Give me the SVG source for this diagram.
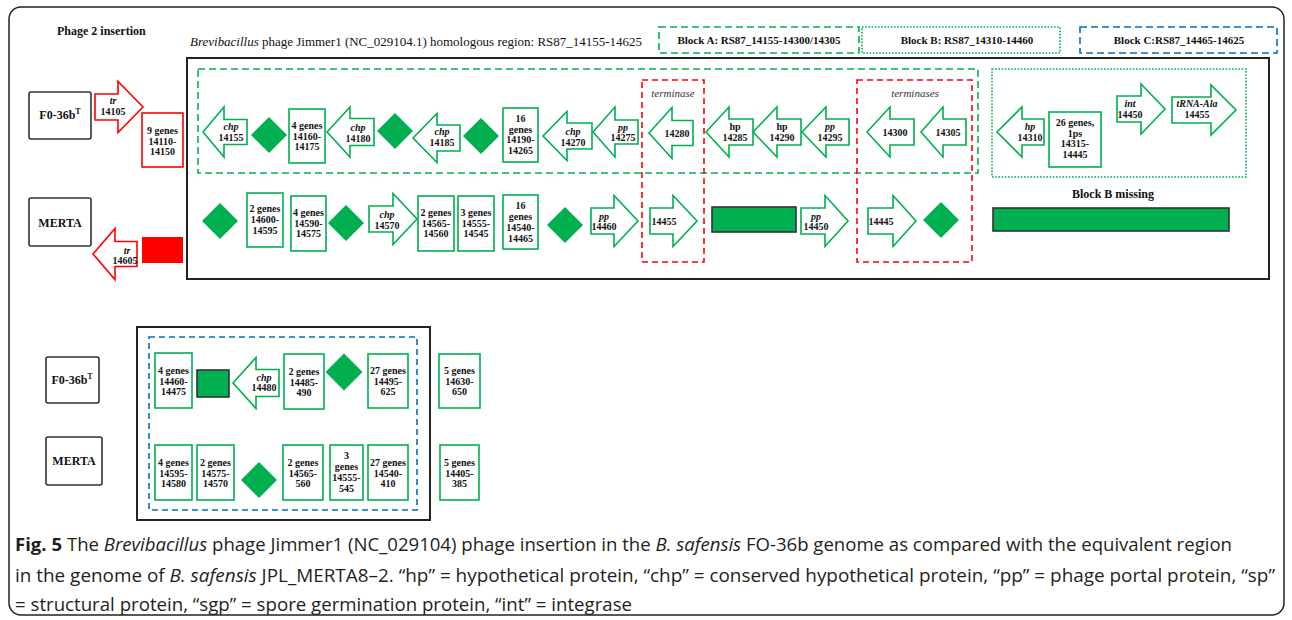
<svg xmlns="http://www.w3.org/2000/svg" width="1292" height="620" viewBox="0 0 1292 620">
<style>
.g{fill:#fff;stroke:#00b050;stroke-width:1.6}
.r{fill:#fff;stroke:#ff0000;stroke-width:1.6}
.lab{fill:#fff;stroke:#333;stroke-width:1.6}
.dia{fill:#00b050}
.gf{fill:#00b050;stroke:#333;stroke-width:1.6}
.t{font-family:"Liberation Serif",serif;font-weight:bold;font-size:10px;text-anchor:middle;fill:#111}
.i{font-style:italic}
.h{font-family:"Liberation Serif",serif;font-weight:bold;font-size:12px;fill:#111}
.bl{font-family:"Liberation Serif",serif;font-weight:bold;font-size:11px;fill:#111;text-anchor:middle}
.tm{font-family:"Liberation Serif",serif;font-style:italic;font-size:11px;fill:#333;text-anchor:middle}
.cap{font-family:"Open Sans","Noto Sans",sans-serif;font-size:18px;fill:#231f20}
</style>
<rect x="9" y="7" width="1275" height="608" rx="12" fill="none" stroke="#222" stroke-width="1.5"/>
<g id="header">
<text class="h" x="57" y="35">Phage 2 insertion</text>
<text x="190" y="46" font-family="Liberation Serif,serif" font-size="13" fill="#111" textLength="452" lengthAdjust="spacingAndGlyphs"><tspan font-style="italic">Brevibacillus</tspan> phage Jimmer1 (NC_029104.1) homologous region: RS87_14155-14625</text>
</g>
<g id="legendA"><rect x="659" y="27" width="200" height="26" fill="none" stroke="#00b050" stroke-width="1.6" stroke-dasharray="7,4"/><text class="bl" x="759" y="44">Block A: RS87_14155-14300/14305</text></g>
<g id="legendB"><rect x="862" y="27" width="198" height="26" fill="none" stroke="#00b050" stroke-width="1.6" stroke-dasharray="1.6,1.6"/><text class="bl" x="967" y="44">Block B: RS87_14310-14460</text></g>
<g id="legendC"><rect x="1080" y="27" width="197" height="26" fill="none" stroke="#0070c0" stroke-width="1.6" stroke-dasharray="7,4"/><text class="bl" x="1179" y="44">Block C:RS87_14465-14625</text></g>

<g id="mainBox"><rect x="187" y="58" width="1082" height="221" fill="none" stroke="#222" stroke-width="2"/></g>
<g id="blockA"><rect x="198" y="69" width="780" height="104" fill="none" stroke="#00b050" stroke-width="1.6" stroke-dasharray="7,4"/></g>
<g id="blockB"><rect x="992" y="69" width="254" height="108" fill="none" stroke="#00b050" stroke-width="1.6" stroke-dasharray="1.6,1.6"/></g>
<g id="terminase"><rect x="642" y="80" width="62" height="182" fill="none" stroke="#ff0000" stroke-width="1.6" stroke-dasharray="6,4"/><text class="tm" x="673" y="97">terminase</text></g>
<g id="terminases"><rect x="857" y="80" width="115" height="182" fill="none" stroke="#ff0000" stroke-width="1.6" stroke-dasharray="6,4"/><text class="tm" x="915" y="97">terminases</text></g>

<g id="lbl-F0"><rect class="lab" x="29" y="92" width="62" height="47" rx="2"/><text class="h" x="60" y="119" text-anchor="middle">F0-36b<tspan font-size="8" dy="-5">T</tspan></text></g>
<g id="lbl-MERTA"><rect class="lab" x="29" y="198" width="62" height="48" rx="2"/><text class="h" x="60" y="227" text-anchor="middle">MERTA</text></g>

<g id="tr14105"><path class="r" d="M95,94 L118,94 L118,81.5 L143,107 L118,132.5 L118,120 L95,120 Z"/><text class="t" x="113" y="104"><tspan class="i">tr</tspan><tspan x="113" dy="10.5">14105</tspan></text></g>
<g id="g9genes"><rect class="r" x="142" y="113" width="41" height="54"/><text class="t" x="162.5" y="134">9 genes<tspan x="162.5" dy="10.5">14110-</tspan><tspan x="162.5" dy="10.5">14150</tspan></text></g>
<g id="tr14605"><path class="r" d="M93,254 L115,228.5 L115,241.5 L137,241.5 L137,266.5 L115,266.5 L115,279.5 Z"/><text class="t" x="127" y="254"><tspan class="i">tr</tspan><tspan x="125" dy="10">14605</tspan></text></g>
<g id="redrect"><rect x="142" y="237" width="41" height="26" fill="#ff0000"/></g>

<g id="a14155"><path class="g" d="M203,132 L224,107 L224,119.5 L247,119.5 L247,144.5 L224,144.5 L224,157 Z"/><text class="t" x="231" y="130"><tspan class="i">chp</tspan><tspan x="231" dy="10.5">14155</tspan></text></g>
<g id="d1"><polygon class="dia" points="269,117 287,135 269,153 251,135"/></g>
<g id="b14160"><rect class="g" x="289" y="109" width="36" height="54"/><text class="t" x="307" y="129">4 genes<tspan x="307" dy="10.5">14160-</tspan><tspan x="307" dy="10.5">14175</tspan></text></g>
<g id="a14180"><path class="g" d="M327,132 L350,107 L350,118.5 L374,118.5 L374,145.5 L350,145.5 L350,157 Z"/><text class="t" x="358" y="131"><tspan class="i">chp</tspan><tspan x="358" dy="10.5">14180</tspan></text></g>
<g id="d2"><polygon class="dia" points="395,113 413,131 395,149 377,131"/></g>
<g id="a14185"><path class="g" d="M413,138 L437,113.5 L437,125 L460,125 L460,151 L437,151 L437,162.5 Z"/><text class="t" x="442" y="135"><tspan class="i">chp</tspan><tspan x="442" dy="10.5">14185</tspan></text></g>
<g id="d3"><polygon class="dia" points="481,118 499,136 481,154 463,136"/></g>
<g id="b14190"><rect class="g" x="503" y="108" width="35" height="54"/><text class="t" x="520.5" y="122">16<tspan x="520.5" dy="10.5">genes</tspan><tspan x="520.5" dy="10.5">14190-</tspan><tspan x="520.5" dy="10.5">14265</tspan></text></g>
<g id="a14270"><path class="g" d="M543,136 L567,111.5 L567,123 L592,123 L592,149 L567,149 L567,160.5 Z"/><text class="t" x="573" y="135"><tspan class="i">chp</tspan><tspan x="573" dy="10.5">14270</tspan></text></g>
<g id="a14275"><path class="g" d="M593,132 L615,107 L615,120 L638,120 L638,144 L615,144 L615,157 Z"/><text class="t" x="623" y="131"><tspan class="i">pp</tspan><tspan x="623" dy="10">14275</tspan></text></g>
<g id="a14280"><path class="g" d="M649,133 L672,107.5 L672,120.5 L693,120.5 L693,145.5 L672,145.5 L672,158.5 Z"/><text class="t" x="677" y="136.5">14280</text></g>
<g id="a14285"><path class="g" d="M706,132 L729,107 L729,119 L753,119 L753,145 L729,145 L729,157 Z"/><text class="t" x="735" y="130">hp<tspan x="735" dy="10.5">14285</tspan></text></g>
<g id="a14290"><path class="g" d="M753,132 L777,107 L777,119 L801,119 L801,145 L777,145 L777,157 Z"/><text class="t" x="782" y="130">hp<tspan x="782" dy="10.5">14290</tspan></text></g>
<g id="a14295"><path class="g" d="M802,132 L826,107 L826,119 L849,119 L849,145 L826,145 L826,157 Z"/><text class="t" x="830" y="130"><tspan class="i">pp</tspan><tspan x="830" dy="10.5">14295</tspan></text></g>
<g id="a14300"><path class="g" d="M867,132 L890,107 L890,119 L914,119 L914,145 L890,145 L890,157 Z"/><text class="t" x="895" y="135.5">14300</text></g>
<g id="a14305"><path class="g" d="M921,132 L943,107 L943,119 L966,119 L966,145 L943,145 L943,157 Z"/><text class="t" x="948" y="135.5">14305</text></g>

<g id="a14310"><path class="g" d="M997,132 L1022,107 L1022,119 L1044,119 L1044,145 L1022,145 L1022,157 Z"/><text class="t" x="1030" y="130"><tspan class="i">hp</tspan><tspan x="1030" dy="10.5">14310</tspan></text></g>
<g id="b14315"><rect class="g" x="1049" y="112" width="52" height="55"/><text class="t" x="1075" y="126">26 genes,<tspan x="1075" dy="10.5">1ps</tspan><tspan x="1075" dy="10.5">14315-</tspan><tspan x="1075" dy="10.5">14445</tspan></text></g>
<g id="a14450"><path class="g" d="M1117,96 L1141,96 L1141,84 L1165,109 L1141,134 L1141,122 L1117,122 Z"/><text class="t" x="1130" y="107"><tspan class="i">int</tspan><tspan x="1130" dy="10.5">14450</tspan></text></g>
<g id="a14455"><path class="g" d="M1172,97 L1211,97 L1211,85 L1236,110 L1211,135 L1211,123 L1172,123 Z"/><text class="t" x="1197" y="107"><tspan class="i">tRNA-Ala</tspan><tspan x="1197" dy="10.5">14455</tspan></text></g>

<g id="m-d1"><polygon class="dia" points="220,203 238,221 220,239 202,221"/></g>
<g id="m14600"><rect class="g" x="247" y="193" width="36" height="54"/><text class="t" x="265" y="212">2 genes<tspan x="265" dy="11">14600-</tspan><tspan x="265" dy="11">14595</tspan></text></g>
<g id="m14590"><rect class="g" x="291" y="196" width="35" height="55"/><text class="t" x="308.5" y="216">4 genes<tspan x="308.5" dy="10.5">14590-</tspan><tspan x="308.5" dy="10.5">14575</tspan></text></g>
<g id="m-d2"><polygon class="dia" points="346,205 364,223 346,241 328,223"/></g>
<g id="m14570"><path class="g" d="M369,206 L393,206 L393,193.5 L417,219 L393,244.5 L393,232 L369,232 Z"/><text class="t" x="387" y="218"><tspan class="i">chp</tspan><tspan x="387" dy="10.5">14570</tspan></text></g>
<g id="m14565"><rect class="g" x="418" y="196" width="36" height="55"/><text class="t" x="436" y="216">2 genes<tspan x="436" dy="10.5">14565-</tspan><tspan x="436" dy="10.5">14560</tspan></text></g>
<g id="m14555"><rect class="g" x="458" y="196" width="36" height="55"/><text class="t" x="476" y="216">3 genes<tspan x="476" dy="10.5">14555-</tspan><tspan x="476" dy="10.5">14545</tspan></text></g>
<g id="m14540"><rect class="g" x="503" y="195" width="35" height="54"/><text class="t" x="520.5" y="209">16<tspan x="520.5" dy="11">genes</tspan><tspan x="520.5" dy="11">14540-</tspan><tspan x="520.5" dy="11">14465</tspan></text></g>
<g id="m-d3"><polygon class="dia" points="565,207 583,225 565,243 547,225"/></g>
<g id="m14460"><path class="g" d="M591,208 L614,208 L614,195.5 L638,221 L614,246.5 L614,234 L591,234 Z"/><text class="t" x="604" y="220"><tspan class="i">pp</tspan><tspan x="604" dy="10">14460</tspan></text></g>
<g id="m14455"><path class="g" d="M650,208 L673,208 L673,195.5 L697,221 L673,246.5 L673,234 L650,234 Z"/><text class="t" x="664" y="225">14455</text></g>
<g id="m-rect"><rect class="gf" x="712" y="207" width="84" height="25"/></g>
<g id="m14450"><path class="g" d="M801,208 L825,208 L825,195.5 L848,221 L825,246.5 L825,234 L801,234 Z"/><text class="t" x="816" y="220"><tspan class="i">pp</tspan><tspan x="816" dy="10">14450</tspan></text></g>
<g id="m14445"><path class="g" d="M868,208 L893,208 L893,195.5 L916,221 L893,246.5 L893,234 L868,234 Z"/><text class="t" x="881" y="225">14445</text></g>
<g id="m-d4"><polygon class="dia" points="941,202 959,220 941,238 923,220"/></g>
<g id="blockBmissing"><text class="h" x="1113" y="198" text-anchor="middle" fill="#222">Block B missing</text><rect class="gf" x="993" y="208" width="236" height="23"/></g>

<g id="bottomBox"><rect x="137" y="327" width="293" height="193" fill="none" stroke="#222" stroke-width="2"/></g>
<g id="blockC"><rect x="149" y="337" width="268" height="173" fill="none" stroke="#0070c0" stroke-width="1.6" stroke-dasharray="6,4"/></g>
<g id="lbl-F0-2"><rect class="lab" x="46" y="357" width="53" height="46" rx="2"/><text class="h" x="72" y="384" text-anchor="middle" font-size="11">F0-36b<tspan font-size="7.5" dy="-5">T</tspan></text></g>
<g id="lbl-MERTA-2"><rect class="lab" x="46" y="437" width="56" height="48" rx="2"/><text class="h" x="74" y="465" text-anchor="middle" font-size="11">MERTA</text></g>

<g id="c14460"><rect class="g" x="155" y="353" width="37" height="55"/><text class="t" x="173.5" y="374">4 genes<tspan x="173.5" dy="10.5">14460-</tspan><tspan x="173.5" dy="10.5">14475</tspan></text></g>
<g id="c-rect"><rect class="gf" x="197" y="370" width="32" height="27"/></g>
<g id="c14480"><path class="g" d="M233,383 L256,357.5 L256,369.5 L279,369.5 L279,396.5 L256,396.5 L256,408.5 Z"/><text class="t" x="264" y="381"><tspan class="i">chp</tspan><tspan x="264" dy="10">14480</tspan></text></g>
<g id="c14485"><rect class="g" x="284" y="354" width="40" height="55"/><text class="t" x="304" y="375">2 genes<tspan x="304" dy="10.5">14485-</tspan><tspan x="304" dy="10.5">490</tspan></text></g>
<g id="c-d1"><polygon class="dia" points="344,353.5 362.5,372 344,390.5 325.5,372"/></g>
<g id="c14495"><rect class="g" x="368" y="354" width="40" height="54"/><text class="t" x="388" y="374">27 genes<tspan x="388" dy="10.5">14495-</tspan><tspan x="388" dy="10.5">625</tspan></text></g>
<g id="c14630"><rect class="g" x="439" y="354" width="41" height="54"/><text class="t" x="459.5" y="374">5 genes<tspan x="459.5" dy="10.5">14630-</tspan><tspan x="459.5" dy="10.5">650</tspan></text></g>

<g id="n14595"><rect class="g" x="155" y="445" width="37" height="55"/><text class="t" x="173.5" y="466">4 genes<tspan x="173.5" dy="10.5">14595-</tspan><tspan x="173.5" dy="10.5">14580</tspan></text></g>
<g id="n14575"><rect class="g" x="197" y="445" width="37" height="55"/><text class="t" x="215.5" y="466">2 genes<tspan x="215.5" dy="10.5">14575-</tspan><tspan x="215.5" dy="10.5">14570</tspan></text></g>
<g id="n-d1"><polygon class="dia" points="259,462 277,480 259,498 241,480"/></g>
<g id="n14565"><rect class="g" x="283" y="445" width="40" height="55"/><text class="t" x="303" y="466">2 genes<tspan x="303" dy="10.5">14565-</tspan><tspan x="303" dy="10.5">560</tspan></text></g>
<g id="n14555"><rect class="g" x="330" y="445" width="33" height="55"/><text class="t" x="346.5" y="459">3<tspan x="346.5" dy="11">genes</tspan><tspan x="346.5" dy="11">14555-</tspan><tspan x="346.5" dy="11">545</tspan></text></g>
<g id="n14540"><rect class="g" x="368" y="445" width="40" height="55"/><text class="t" x="388" y="466">27 genes<tspan x="388" dy="10.5">14540-</tspan><tspan x="388" dy="10.5">410</tspan></text></g>
<g id="n14405"><rect class="g" x="440" y="445" width="39" height="55"/><text class="t" x="459.5" y="466">5 genes<tspan x="459.5" dy="10.5">14405-</tspan><tspan x="459.5" dy="10.5">385</tspan></text></g>

<g id="caption">
<text class="cap" x="15" y="551" textLength="1217" lengthAdjust="spacingAndGlyphs"><tspan font-weight="bold">Fig. 5</tspan> The <tspan font-style="italic">Brevibacillus</tspan> phage Jimmer1 (NC_029104) phage insertion in the <tspan font-style="italic">B. safensis</tspan> FO-36b genome as compared with the equivalent region</text>
<text class="cap" x="15" y="582" textLength="1260" lengthAdjust="spacingAndGlyphs">in the genome of <tspan font-style="italic">B. safensis</tspan> JPL_MERTA8–2. “hp” = hypothetical protein, “chp” = conserved hypothetical protein, “pp” = phage portal protein, “sp”</text>
<text class="cap" x="15" y="611" textLength="617" lengthAdjust="spacingAndGlyphs">= structural protein, “sgp” = spore germination protein, “int” = integrase</text>
</g>
</svg>
